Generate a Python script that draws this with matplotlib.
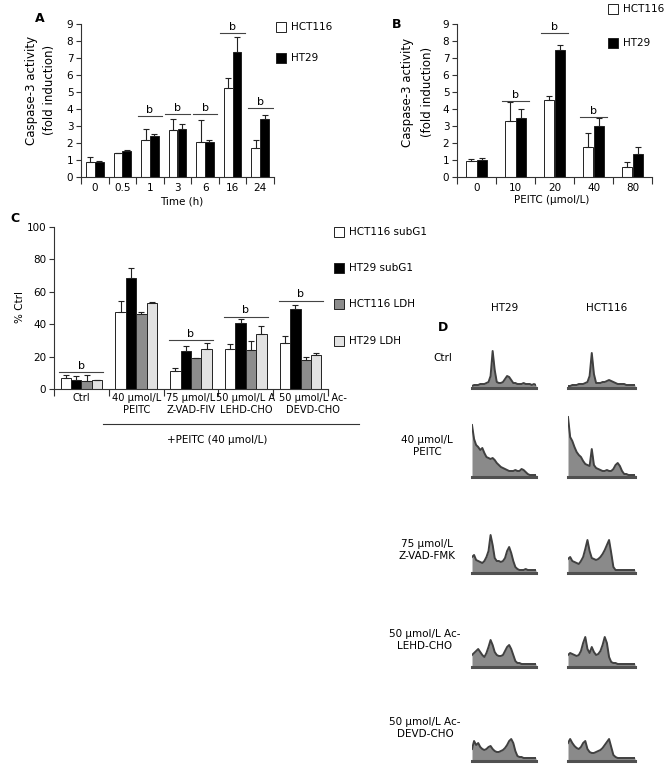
import matplotlib.pyplot as plt
import matplotlib.transforms as mtransforms
import numpy as np
from matplotlib.patches import Rectangle

plt.rcParams['font.family'] = ['DejaVu Sans']
plt.rcParams['font.size'] = 7.5

# panel A: caspase-3 activity over time
time_labels = ['0', '0.5', '1', '3', '6', '16', '24']
a_hct = [0.9, 1.4, 2.15, 2.75, 2.05, 5.25, 1.7]
a_hct_err = [0.25, 0.03, 0.65, 0.65, 1.3, 0.55, 0.45]
a_ht = [0.9, 1.55, 2.4, 2.85, 2.05, 7.35, 3.4]
a_ht_err = [0.05, 0.05, 0.15, 0.25, 0.15, 0.9, 0.25]
a_sig_idx = [2, 3, 4, 5, 6]
a_sig_y = [3.6, 3.7, 3.7, 8.5, 4.05]

# panel B: caspase-3 activity vs PEITC dose
dose_labels = ['0', '10', '20', '40', '80']
b_hct = [0.95, 3.3, 4.55, 1.75, 0.6]
b_hct_err = [0.1, 1.1, 0.2, 0.85, 0.3]
b_ht = [1.0, 3.5, 7.5, 3.0, 1.35]
b_ht_err = [0.1, 0.5, 0.25, 0.45, 0.4]
b_sig_idx = [1, 2, 3]
b_sig_y = [4.45, 8.5, 3.55]

# panel C: subG1 / LDH
c_labels = ['Ctrl', '40 \u03bcmol/L\nPEITC', '75 \u03bcmol/L\nZ-VAD-FIV',
            '50 \u03bcmol/L A\nLEHD-CHO', '50 \u03bcmol/L Ac-\nDEVD-CHO']
c_hct_sub = [6.8, 47.7, 10.9, 24.8, 28.3]
c_hct_sub_err = [1.6, 6.6, 2.0, 2.9, 4.5]
c_ht_sub = [5.7, 68.6, 23.2, 41.0, 49.2]
c_ht_sub_err = [2.1, 5.8, 3.6, 2.2, 2.8]
c_hct_ldh = [4.7, 46.1, 19.1, 24.2, 18.0]
c_hct_ldh_err = [3.7, 1.6, 0.0, 5.7, 1.5]
c_ht_ldh = [5.7, 53.3, 24.6, 34.0, 21.1]
c_ht_ldh_err = [0.0, 0.4, 3.7, 4.9, 1.4]
c_sig_idx = [0, 2, 3, 4]
c_sig_y = [10.4, 30.3, 44.7, 54.5]
c_series = ['HCT116 subG1', 'HT29 subG1', 'HCT116 LDH', 'HT29 LDH']
c_colors = ['white', 'black', '#8c8c8c', '#e2e2e2']

# panel D: flow cytometry histograms (heights)
d_rows = ['Ctrl', '40 \u03bcmol/L\nPEITC', '75 \u03bcmol/L\nZ-VAD-FMK',
          '50 \u03bcmol/L Ac-\nLEHD-CHO', '50 \u03bcmol/L Ac-\nDEVD-CHO']
ht29_hist = [
    [2, 3, 3, 3, 4, 4, 4, 5, 6, 12, 37, 18, 6, 5, 5, 6, 9, 12, 11, 8, 5, 5, 4, 4, 4, 5, 4, 4, 4, 3, 4, 3],
    [52, 38, 32, 30, 27, 29, 24, 20, 19, 18, 19, 17, 14, 12, 10, 9, 8, 7, 6, 6, 6, 7, 6, 6, 8, 7, 5, 3, 2, 2, 2, 2],
    [16, 18, 13, 12, 11, 10, 12, 16, 22, 38, 28, 15, 12, 12, 11, 12, 15, 22, 26, 20, 12, 6, 4, 3, 3, 3, 4, 3, 3, 3, 3, 3],
    [12, 14, 16, 18, 15, 12, 10, 14, 20, 27, 22, 15, 12, 11, 11, 12, 16, 20, 22, 18, 12, 6, 4, 4, 3, 3, 3, 3, 3, 3, 3, 3],
    [12, 20, 16, 18, 14, 12, 11, 12, 14, 15, 12, 10, 9, 9, 10, 11, 13, 16, 20, 22, 18, 10, 5, 4, 4, 3, 3, 3, 3, 3, 3, 3],
]
hct_hist = [
    [2, 2, 3, 3, 3, 4, 4, 4, 5, 6, 12, 35, 14, 5, 5, 5, 6, 6, 7, 8, 7, 6, 5, 4, 4, 4, 4, 3, 3, 3, 3, 3],
    [60, 40, 36, 30, 25, 22, 20, 16, 13, 12, 11, 28, 12, 9, 8, 7, 6, 6, 7, 6, 6, 8, 12, 14, 11, 6, 3, 3, 2, 2, 2, 2],
    [14, 16, 12, 11, 10, 9, 12, 16, 24, 33, 22, 15, 14, 13, 14, 16, 19, 23, 28, 33, 20, 6, 3, 3, 3, 3, 3, 3, 3, 3, 3, 3],
    [12, 14, 13, 12, 11, 12, 16, 24, 30, 18, 14, 20, 15, 12, 13, 16, 22, 30, 24, 10, 5, 4, 4, 3, 3, 3, 3, 3, 3, 3, 3, 3],
    [18, 22, 18, 15, 13, 12, 14, 18, 20, 12, 9, 8, 8, 9, 10, 11, 13, 16, 19, 22, 14, 6, 4, 3, 3, 3, 3, 3, 3, 3, 3, 3],
]

W, H = 671, 772
fig = plt.figure(figsize=(W / 100, H / 100), dpi=100)


def px_axes(x0, y0, x1, y1):
    return fig.add_axes([x0 / W, 1 - y1 / H, (x1 - x0) / W, (y1 - y0) / H])


def ftext(x, y, s, **kw):
    fig.text(x / W, 1 - y / H, s, **kw)


def swatch(x, y, color, label):
    fig.add_artist(Rectangle((x / W, 1 - (y + 5) / H), 10 / W, 10 / H, facecolor=color,
                             edgecolor='#222222', lw=0.7, transform=fig.transFigure))
    ftext(x + 15, y, label, va='center')


def style(ax, labels, ymax, ystep, fs=7.5):
    n = len(labels)
    for s in ['top', 'right']:
        ax.spines[s].set_visible(False)
    for s in ['left', 'bottom']:
        ax.spines[s].set_linewidth(0.8)
        ax.spines[s].set_color('#333333')
    ax.set_xlim(-0.5, n - 0.5)
    ax.set_ylim(0, ymax)
    ax.set_yticks(np.arange(0, ymax + 0.01, ystep))
    ax.set_xticks(np.arange(n + 1) - 0.5)
    ax.set_xticklabels([])
    ax.set_xticks(np.arange(n), labels, minor=True, fontsize=fs)
    ax.tick_params(axis='x', which='major', length=5, width=0.8, color='#333333')
    ax.tick_params(axis='x', which='minor', length=0, pad=4)
    ax.tick_params(axis='y', length=3.5, width=0.8, color='#333333', pad=2)


def bars(ax, x, vals, errs, color, width):
    ax.bar(x, vals, width, color=color, edgecolor='#222222', lw=0.7, zorder=2)
    ax.errorbar(x, vals, yerr=[np.zeros(len(vals)), errs], fmt='none', ecolor='#222222',
                elinewidth=0.8, capsize=2.5, capthick=0.8, zorder=3)


def sig(ax, idx, ys, half, dy):
    for i, y in zip(idx, ys):
        ax.plot([i - half, i + half], [y, y], color='#444444', lw=0.8)
        ax.text(i, y + dy, 'b', ha='center', va='bottom', fontsize=8)


# ---- A
axA = px_axes(81, 24, 274, 177)
x = np.arange(len(time_labels))
bars(axA, x - 0.16, a_hct, a_hct_err, 'white', 0.32)
bars(axA, x + 0.16, a_ht, a_ht_err, 'black', 0.32)
sig(axA, a_sig_idx, a_sig_y, 0.45, 0.05)
style(axA, time_labels, 9, 1)
ftext(182, 202, 'Time (h)', ha='center', va='center')
ftext(32, 90, 'Caspase-3 activity', rotation=90, ha='center', va='center', fontsize=8.5)
ftext(50, 90, '(fold induction)', rotation=90, ha='center', va='center', fontsize=8.5)
ftext(40, 18, 'A', fontweight='bold', fontsize=9, ha='center', va='center')
swatch(276, 27, 'white', 'HCT116')
swatch(276, 58, 'black', 'HT29')

# ---- B
axB = px_axes(457, 24, 652, 177)
x = np.arange(len(dose_labels))
bars(axB, x - 0.14, b_hct, b_hct_err, 'white', 0.28)
bars(axB, x + 0.14, b_ht, b_ht_err, 'black', 0.28)
sig(axB, b_sig_idx, b_sig_y, 0.35, 0.05)
style(axB, dose_labels, 9, 1)
ftext(552, 200, 'PEITC (\u03bcmol/L)', ha='center', va='center')
ftext(407, 92, 'Caspase-3 activity', rotation=90, ha='center', va='center', fontsize=8.5)
ftext(427, 92, '(fold induction)', rotation=90, ha='center', va='center', fontsize=8.5)
ftext(397, 25, 'B', fontweight='bold', fontsize=9, ha='center', va='center')
swatch(608, 9, 'white', 'HCT116')
swatch(608, 43, 'black', 'HT29')

# ---- C
axC = px_axes(54, 227, 328, 389)
x = np.arange(len(c_labels))
c_vals = [c_hct_sub, c_ht_sub, c_hct_ldh, c_ht_ldh]
c_errs = [c_hct_sub_err, c_ht_sub_err, c_hct_ldh_err, c_ht_ldh_err]
for k in range(4):
    bars(axC, x + (k - 1.5) * 0.19, c_vals[k], c_errs[k], c_colors[k], 0.19)
sig(axC, c_sig_idx, c_sig_y, 0.4, 0.8)
style(axC, c_labels, 100, 20, fs=7.1)
axC.tick_params(axis='x', which='minor', pad=3)
# last label sits a little to the right in the original
last = axC.get_xticklabels(minor=True)[-1]
last.set_transform(last.get_transform() + mtransforms.ScaledTranslation(0.12, 0, fig.dpi_scale_trans))
ftext(20, 307, '% Ctrl', rotation=90, ha='center', va='center')
ftext(15, 218, 'C', fontweight='bold', fontsize=9, ha='center', va='center')
fig.add_artist(plt.Line2D([103 / W, 359 / W], [1 - 424 / H, 1 - 424 / H], color='#333333', lw=0.8))
ftext(217, 440, '+PEITC (40 \u03bcmol/L)', ha='center', va='center')
for k, y in enumerate([232, 268, 304, 341]):
    swatch(334, y, c_colors[k], c_series[k])

# ---- D
ftext(505, 308, 'HT29', ha='center', va='center')
ftext(607, 308, 'HCT116', ha='center', va='center')
ftext(443, 328, 'D', fontweight='bold', fontsize=9, ha='center', va='center')
row_base = [388, 477, 573, 667, 761]
row_lab_x = [443, 427, 427, 425, 425]
row_lab_y = [358, 446, 550, 640, 728]
for r in range(len(d_rows)):
    ftext(row_lab_x[r], row_lab_y[r], d_rows[r], ha='center', va='center', multialignment='center')
    for (x0, x1), hist in [((472, 536), ht29_hist[r]), ((568, 635), hct_hist[r])]:
        axh = px_axes(x0, row_base[r] - 62, x1, row_base[r])
        xs = np.arange(len(hist))
        axh.fill_between(xs, hist, color='#8a8a8a', lw=0)
        axh.plot(xs, hist, color='#404040', lw=1.4)
        axh.plot([0, len(hist) - 1], [0, 0], color='#505050', lw=2.2, clip_on=False)
        axh.set_xlim(0, len(hist) - 1)
        axh.set_ylim(0, 62)
        axh.axis('off')

fig.savefig('out.png', dpi=100)
